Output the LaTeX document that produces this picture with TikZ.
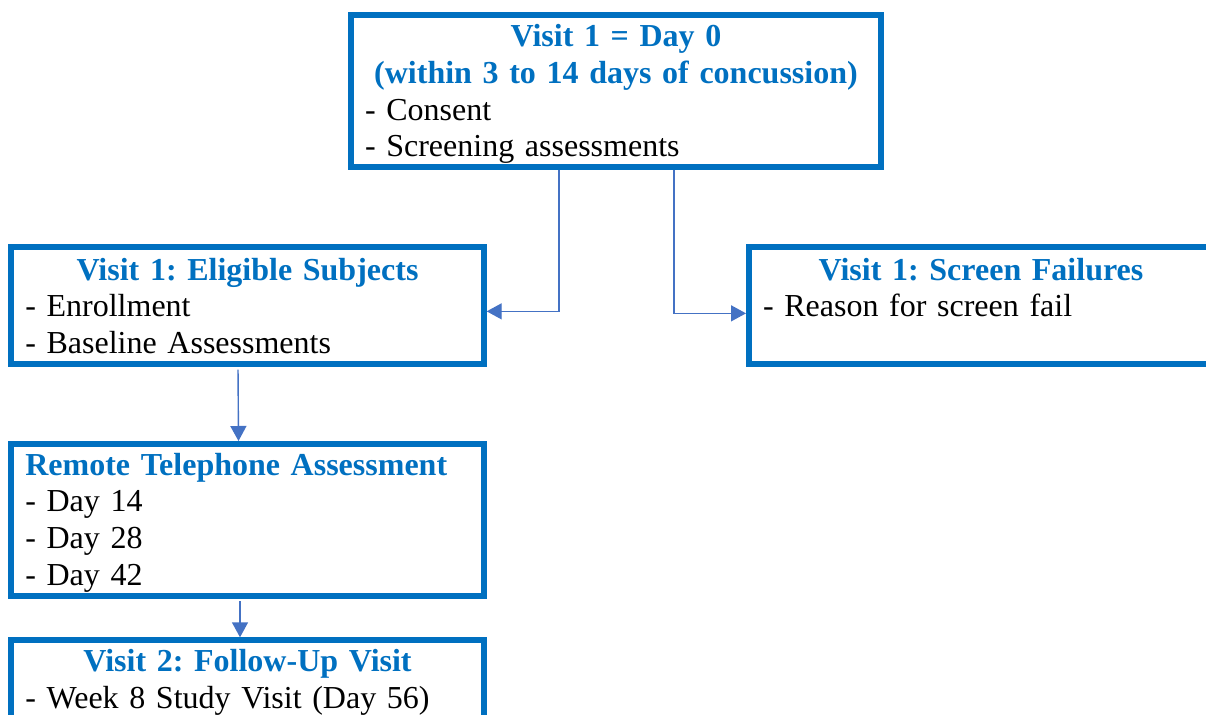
\documentclass[tikz,border=0pt]{standalone}
\usepackage{fontspec}
\setmainfont{Liberation Serif}
\usetikzlibrary{arrows.meta}
\definecolor{boxblue}{HTML}{0070C0}
\definecolor{arrowblue}{HTML}{4472C4}
\newcommand{\boxtitle}[1]{{\centering\bfseries\color{boxblue}#1\par}}
\frenchspacing
\begin{document}
\begin{tikzpicture}[
    x=1pt, y=-1pt,
    visitbox/.style={draw=boxblue, line width=6pt, anchor=north west, inner xsep=14pt,
                     inner ysep=0pt, align=left, font=\fontsize{32}{36.7}\selectfont},
    arr/.style={draw=arrowblue, line width=1.4pt, -{Triangle[length=15pt, width=16pt]}},
]
  \useasboundingbox (0,0) rectangle (1206,714);
  \clip (0,0) rectangle (1206,714);
  % boxes
  \node [visitbox, text width=502pt, text height=31.7pt, text depth=120.3pt] (v1)     at (348,12)
        {\boxtitle{Visit 1 = Day 0\\(within 3 to 14 days of concussion)}- Consent\\- Screening assessments};
  \node [visitbox, text width=444.4pt, text height=33pt, text depth=83.7pt]  (elig)   at (8.3,244)
        {\boxtitle{Visit 1: Eligible Subjects}- Enrollment\\- Baseline Assessments};
  \node [visitbox, text width=436pt, text height=33pt, text depth=83.7pt]    (fail)   at (746,244)
        {\boxtitle{Visit 1: Screen Failures}- Reason for screen fail};
  \node [visitbox, text width=444.4pt, text height=31pt, text depth=121.3pt] (remote) at (8.3,441)
        {{\bfseries\color{boxblue}Remote Telephone Assessment}\\- Day 14\\- Day 28\\- Day 42};
  \node [visitbox, text width=444.4pt, text height=31.4pt, text depth=70pt]  (follow) at (8.3,637.3)
        {\boxtitle{Visit 2: Follow-Up Visit}- Week 8 Study Visit (Day 56)};
  % connectors
  \draw [arr] ([xshift=211pt]v1.south west) |- ([yshift=-6pt]elig.east);
  \draw [arr] ([xshift=326pt]v1.south west) |- ([yshift=-8pt]fail.west);
  \draw [arr, shorten <=3pt] ([xshift=-9.5pt]elig.south) -- ([xshift=-9pt]remote.north);
  \draw [arr, shorten <=2pt] ([xshift=-7.5pt]remote.south) -- ([xshift=-7.5pt]follow.north);
\end{tikzpicture}
\end{document}
